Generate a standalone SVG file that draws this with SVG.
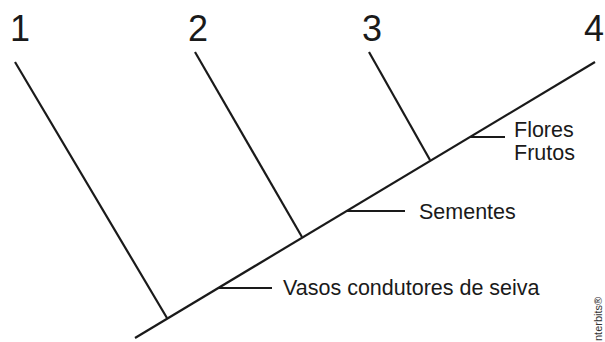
<svg xmlns="http://www.w3.org/2000/svg" width="605" height="342" viewBox="0 0 605 342">
<style>
.ln{stroke:#1a1a1a;stroke-width:2.2;fill:none;stroke-linecap:butt}
.num{font-family:"Liberation Sans",Arial,sans-serif;font-size:36px;fill:#1a1a1a}
.lbl{font-family:"Liberation Sans",Arial,sans-serif;font-size:21.5px;fill:#1a1a1a}
.cr{font-family:"Liberation Sans",Arial,sans-serif;font-size:11px;fill:#333}
</style>
<rect width="605" height="342" fill="#fff"/>
<g id="connectors">
<line class="ln" x1="135" y1="338" x2="595" y2="62"/>
<line class="ln" x1="15" y1="62" x2="167" y2="318"/>
<line class="ln" x1="195" y1="52" x2="302" y2="237"/>
<line class="ln" x1="369" y1="52" x2="430" y2="160"/>
<line class="ln" x1="470" y1="137" x2="505" y2="137"/>
<line class="ln" x1="347" y1="211" x2="405" y2="211"/>
<line class="ln" x1="218" y1="288" x2="272" y2="288"/>
</g>
<g id="taxon1"><text class="num" x="20" y="41" text-anchor="middle">1</text></g>
<g id="taxon2"><text class="num" x="198" y="41" text-anchor="middle">2</text></g>
<g id="taxon3"><text class="num" x="372" y="41" text-anchor="middle">3</text></g>
<g id="taxon4"><text class="num" x="594" y="41" text-anchor="middle">4</text></g>
<g id="flores"><text class="lbl" x="514" y="137">Flores</text><text class="lbl" x="514" y="160">Frutos</text></g>
<g id="sementes"><text class="lbl" x="419" y="219">Sementes</text></g>
<g id="vasos"><text class="lbl" x="283" y="295">Vasos condutores de seiva</text></g>
<g id="credit"><text class="cr" transform="translate(602,341) rotate(-90)">nterbits®</text></g>
</svg>
